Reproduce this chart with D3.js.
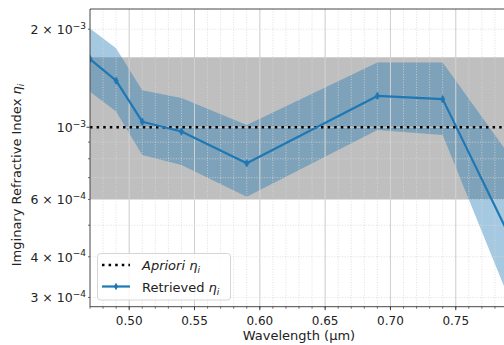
<!DOCTYPE html>
<html>
<head>
<meta charset="utf-8">
<script src="https://cdn.jsdelivr.net/npm/d3@7"></script>
<style>
  body { margin: 0; background: #fff; }
  text { font-family: "DejaVu Sans", sans-serif; fill: #222; }
</style>
</head>
<body>
<svg id="chart" width="504" height="345"></svg>
<script>
// data
var wavelength = [0.47, 0.49, 0.51, 0.54, 0.59, 0.69, 0.74, 0.87];
var retrieved  = [1.62e-3, 1.39e-3, 1.04e-3, 9.7e-4, 7.75e-4, 1.248e-3, 1.22e-3, 1.04e-4];
var upperBand  = [2.01e-3, 1.75e-3, 1.30e-3, 1.23e-3, 1.016e-3, 1.58e-3, 1.58e-3, 2.98e-4];
var lowerBand  = [1.286e-3, 1.117e-3, 8.22e-4, 7.66e-4, 6.12e-4, 9.81e-4, 9.47e-4, 4.88e-5];
var apriori = 1e-3;
var aprioriRange = [6e-4, 1.64e-3];
var xTicks = [0.50, 0.55, 0.60, 0.65, 0.70, 0.75];
var yLabelTicks = [[3e-4, "3", "4"], [4e-4, "4", "4"], [6e-4, "6", "4"], [1e-3, null, "3"], [2e-3, "2", "3"]];
var yMinorTicks = [3e-4, 4e-4, 5e-4, 6e-4, 7e-4, 8e-4, 9e-4, 2e-3];

(function() {
var blue = "#1f77b4";
var pL = 90, pT = 9, pR = 508, pB = 306.7;

var svg = d3.select("#chart");
var x = d3.scaleLinear().domain([0.47, 0.79]).range([pL, pR]);
var y = d3.scaleLog().domain([2.81e-4, 2.308e-3]).range([pB, pT]);

svg.append("clipPath").attr("id", "clip").append("rect")
  .attr("x", pL).attr("y", pT).attr("width", pR - pL).attr("height", pB - pT);

var g = svg.append("g").attr("clip-path", "url(#clip)");

//grey a priori range
g.append("rect")
  .attr("x", pL).attr("width", pR - pL)
  .attr("y", y(aprioriRange[1])).attr("height", y(aprioriRange[0]) - y(aprioriRange[1]))
  .style("fill", "#bfbfbf");

//uncertainty band
var idx = d3.range(wavelength.length);
g.append("path").datum(idx)
  .attr("d", d3.area().x(function(i) { return x(wavelength[i]); })
    .y0(function(i) { return y(lowerBand[i]); })
    .y1(function(i) { return y(upperBand[i]); }))
  .style("fill", blue).style("opacity", 0.4);

//grid: minor dotted, major solid
var minorX = d3.range(47, 80).map(function(v) { return v / 100; });
g.append("g").selectAll("line").data(minorX).enter().append("line")
  .attr("x1", function(d) { return x(d); }).attr("x2", function(d) { return x(d); })
  .attr("y1", pT).attr("y2", pB)
  .style("stroke", "#d8d8d8").style("stroke-width", 0.8).style("stroke-dasharray", "1,1.6");
g.append("g").selectAll("line").data(yMinorTicks).enter().append("line")
  .attr("y1", function(d) { return y(d); }).attr("y2", function(d) { return y(d); })
  .attr("x1", pL).attr("x2", pR)
  .style("stroke", "#d8d8d8").style("stroke-width", 0.8).style("stroke-dasharray", "1,1.6");
g.append("g").selectAll("line").data(xTicks).enter().append("line")
  .attr("x1", function(d) { return x(d); }).attr("x2", function(d) { return x(d); })
  .attr("y1", pT).attr("y2", pB)
  .style("stroke", "#d0d0d0").style("stroke-width", 1);
g.append("line").attr("x1", pL).attr("x2", pR).attr("y1", y(1e-3)).attr("y2", y(1e-3))
  .style("stroke", "#d0d0d0").style("stroke-width", 1);

//a priori line
g.append("line").attr("x1", pL).attr("x2", pR).attr("y1", y(apriori)).attr("y2", y(apriori))
  .style("stroke", "#000").style("stroke-width", 2.5).style("stroke-dasharray", "2.5,4.1");

//retrieved line
g.append("path").datum(idx)
  .attr("d", d3.line().x(function(i) { return x(wavelength[i]); }).y(function(i) { return y(retrieved[i]); }))
  .style("fill", "none").style("stroke", blue).style("stroke-width", 2.2).style("stroke-linejoin", "round");

var diamond = "M0,-3.8L2.2,0L0,3.8L-2.2,0Z";
g.append("g").selectAll("path").data(idx).enter().append("path")
  .attr("d", diamond)
  .attr("transform", function(i) { return "translate(" + x(wavelength[i]) + "," + y(retrieved[i]) + ")"; })
  .style("fill", blue).style("stroke", blue).style("stroke-width", 0.6);

//spines
svg.append("path").attr("d", "M" + pR + "," + pT + "H" + pL + "V" + pB + "H" + pR)
  .style("fill", "none").style("stroke", "#333").style("stroke-width", 0.9);

//x ticks
svg.append("g").selectAll("line").data(minorX).enter().append("line")
  .attr("x1", function(d) { return x(d); }).attr("x2", function(d) { return x(d); })
  .attr("y1", pB).attr("y2", pB + 2)
  .style("stroke", "#333").style("stroke-width", 0.7);
svg.append("g").selectAll("line").data(xTicks).enter().append("line")
  .attr("x1", function(d) { return x(d); }).attr("x2", function(d) { return x(d); })
  .attr("y1", pB).attr("y2", pB + 3.5)
  .style("stroke", "#333").style("stroke-width", 0.9);
svg.append("g").selectAll("text").data(xTicks).enter().append("text")
  .attr("x", function(d) { return x(d); }).attr("y", 325)
  .attr("text-anchor", "middle").style("font-size", "12px")
  .text(function(d) { return d3.format(".2f")(d); });
svg.append("text").attr("x", (pL + pR) / 2).attr("y", 340)
  .attr("text-anchor", "middle").style("font-size", "13px").text("Wavelength (µm)");

//y ticks
svg.append("g").selectAll("line").data(yMinorTicks).enter().append("line")
  .attr("y1", function(d) { return y(d); }).attr("y2", function(d) { return y(d); })
  .attr("x1", pL).attr("x2", pL - 2)
  .style("stroke", "#333").style("stroke-width", 0.7);
svg.append("line").attr("y1", y(1e-3)).attr("y2", y(1e-3)).attr("x1", pL).attr("x2", pL - 3.5)
  .style("stroke", "#333").style("stroke-width", 0.9);
var yl = svg.append("g").selectAll("text").data(yLabelTicks).enter().append("text")
  .attr("x", pL - 4).attr("y", function(d) { return y(d[0]) + 5; })
  .attr("text-anchor", "end").style("font-size", "12.5px");
yl.append("tspan").text(function(d) { return d[1] ? d[1] + " × 10" : "10"; });
yl.append("tspan").attr("dy", -5.5).style("font-size", "9px").text(function(d) { return "−" + d[2]; });

//y label
var ylab = svg.append("text").attr("transform", "translate(21,175) rotate(-90)")
  .attr("text-anchor", "middle").style("font-size", "13px");
ylab.append("tspan").text("Imginary Refractive Index ");
ylab.append("tspan").style("font-style", "italic").text("η");
ylab.append("tspan").attr("dy", 3).style("font-style", "italic").style("font-size", "9px").text("i");

//legend
var lg = svg.append("g");
lg.append("rect").attr("x", 97.5).attr("y", 253.5).attr("width", 133).attr("height", 46.5)
  .attr("rx", 3).style("fill", "#fff").style("fill-opacity", 0.8).style("stroke", "#d0d0d0").style("stroke-width", 0.9);
lg.append("line").attr("x1", 102).attr("x2", 130).attr("y1", 265).attr("y2", 265)
  .style("stroke", "#000").style("stroke-width", 2.5).style("stroke-dasharray", "2.5,4.1");
lg.append("line").attr("x1", 102).attr("x2", 130).attr("y1", 286.5).attr("y2", 286.5)
  .style("stroke", blue).style("stroke-width", 2.2);
lg.append("path").attr("d", diamond).attr("transform", "translate(116,286.5)").style("fill", blue);
var t1 = lg.append("text").attr("x", 142).attr("y", 270).style("font-size", "13px");
t1.append("tspan").style("font-style", "italic").text("Apriori η");
t1.append("tspan").attr("dy", 3).style("font-style", "italic").style("font-size", "9px").text("i");
var t2 = lg.append("text").attr("x", 142).attr("y", 291.5).style("font-size", "13px");
t2.append("tspan").text("Retrieved ");
t2.append("tspan").style("font-style", "italic").text("η");
t2.append("tspan").attr("dy", 3).style("font-style", "italic").style("font-size", "9px").text("i");
})();
</script>
</body>
</html>
